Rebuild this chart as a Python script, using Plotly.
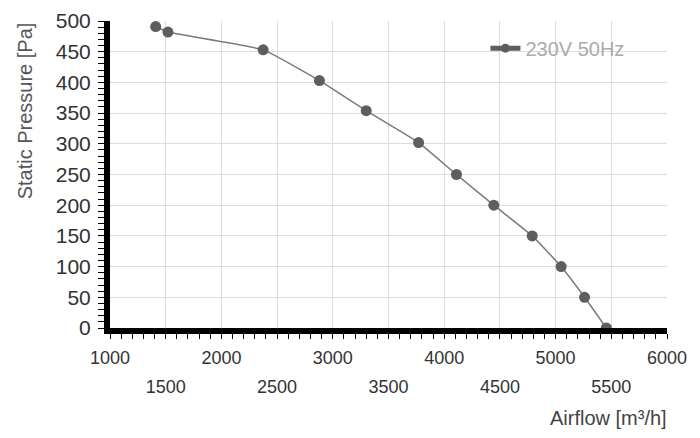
import plotly.graph_objects as go

# fan curve
airflow = [1410, 1520, 2375, 2880, 3300, 3770, 4110, 4445, 4790, 5050, 5260, 5455]
pressure = [491, 482, 453, 403, 354, 302, 250, 200, 150, 100, 50, 0]
series_name = "230V 50Hz"

x_ticks_top = [1000, 2000, 3000, 4000, 5000, 6000]
x_ticks_bottom = [1500, 2500, 3500, 4500, 5500]
y_ticks = [0, 50, 100, 150, 200, 250, 300, 350, 400, 450, 500]

fig = go.Figure()

fig.add_trace(go.Scatter(
    x=airflow, y=pressure, mode="lines+markers", name=series_name,
    line=dict(color="#7a7a7a", width=1.5, shape="spline", smoothing=0.4),
    marker=dict(color="#5e5e5e", size=11),
    showlegend=False,
))
# legend entry with the thicker line
fig.add_trace(go.Scatter(
    x=[None], y=[None], mode="lines+markers", name=series_name,
    line=dict(color="#5e5e5e", width=5),
    marker=dict(color="#5e5e5e", size=9),
))
# invisible copy so the second label row axis gets drawn
fig.add_trace(go.Scatter(
    x=airflow, y=pressure, xaxis="x2", mode="markers",
    marker=dict(opacity=0), hoverinfo="skip", showlegend=False,
))

all_x = sorted(x_ticks_top + x_ticks_bottom)

# the page has an 8px body margin, so the figure is a bit smaller than the window
fig.update_layout(
    width=692, height=430,
    margin=dict(l=102, r=33, t=13, b=110),
    plot_bgcolor="white", paper_bgcolor="white",
    font=dict(family="Liberation Sans, Arial, sans-serif", color="#333"),
    legend=dict(x=0.674, y=0.975, xanchor="left", yanchor="top",
                bgcolor="rgba(0,0,0,0)",
                font=dict(size=20, color="#ababab")),
    xaxis=dict(
        range=[1000, 6000], tickvals=all_x, automargin=False,
        ticktext=[str(v) if v in x_ticks_top else "" for v in all_x],
        showgrid=True, gridcolor="#dcdcdc", gridwidth=1, zeroline=False,
        showline=True, linecolor="black", linewidth=6,
        ticks="outside", ticklen=5, tickcolor="black", tickwidth=1,
        minor=dict(dtick=100, ticks="outside", ticklen=5, tickcolor="black", showgrid=False),
        tickfont=dict(size=18, color="#333"), ticklabelstandoff=3,
    ),
    xaxis2=dict(
        overlaying="x", anchor="y", side="bottom", automargin=False,
        range=[1000, 6000], tickvals=x_ticks_bottom,
        ticktext=[str(v) for v in x_ticks_bottom],
        showgrid=False, zeroline=False, showline=False, ticks="",
        ticklabelstandoff=46,
        tickfont=dict(size=18, color="#333"),
    ),
    yaxis=dict(
        range=[0, 500], tickvals=y_ticks, automargin=False,
        showgrid=True, gridcolor="#dcdcdc", gridwidth=1, zeroline=False,
        showline=True, linecolor="black", linewidth=6,
        ticks="outside", ticklen=6, tickcolor="black", tickwidth=1,
        minor=dict(dtick=10, ticks="outside", ticklen=6, tickcolor="black", showgrid=False),
        tickfont=dict(size=21, color="#333"), ticklabelstandoff=3,
    ),
    annotations=[
        dict(text="Static Pressure [Pa]", xref="paper", yref="paper",
             x=-0.153, y=1.003, xanchor="center", yanchor="top",
             textangle=-90, showarrow=False, font=dict(size=20, color="#555")),
        dict(text="Airflow [m³/h]", xref="paper", yref="paper",
             x=1.004, y=-0.293, xanchor="right", yanchor="middle",
             showarrow=False, font=dict(size=20, color="#444")),
    ],
)

fig.write_html("out.html")
